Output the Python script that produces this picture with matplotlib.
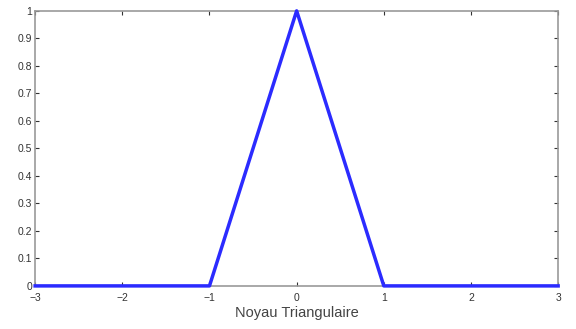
import matplotlib
matplotlib.use('Agg')
from matplotlib import pyplot as plt

plt.rcParams['font.family'] = ['Liberation Sans', 'DejaVu Sans']

# triangular kernel values
x_values = [-3, -1, 0, 1, 3]
y_values = [0, 0, 1, 0, 0]
x_ticks = [-3, -2, -1, 0, 1, 2, 3]
y_ticks = [0, 0.1, 0.2, 0.3, 0.4, 0.5, 0.6, 0.7, 0.8, 0.9, 1]

fig = plt.figure(figsize=(5.76, 3.29), dpi=100)
ax = fig.add_axes([0.061, 0.131, 0.908, 0.836])

ax.plot(x_values, y_values, color='#2b2bff', linewidth=2.5, clip_on=False, zorder=3)

ax.set_xlim(-3, 3)
ax.set_ylim(0, 1)
ax.set_xticks(x_ticks)
ax.set_yticks(y_ticks)
ax.set_xticklabels(['\u22123', '\u22122', '\u22121', '0', '1', '2', '3'])
ax.set_yticklabels(['0', '0.1', '0.2', '0.3', '0.4', '0.5', '0.6', '0.7', '0.8', '0.9', '1'])

ax.tick_params(direction='in', length=3, labelsize=7.5, colors='#333333', pad=2,
               top=True, right=True)
ax.tick_params(axis='x', pad=5)
for spine in ax.spines.values():
    spine.set_color('#999999')
    spine.set_linewidth(1.2)

ax.set_xlabel('Noyau Triangulaire', fontsize=10.5, color='#444444', labelpad=2)

fig.savefig('out.png', dpi=100)
